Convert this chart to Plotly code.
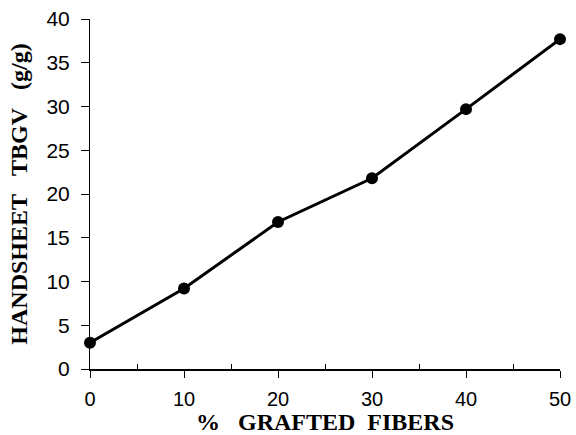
import plotly.graph_objects as go

grafted_pct = [0, 10, 20, 30, 40, 50]
tbgv = [3.0, 9.2, 16.8, 21.8, 29.7, 37.7]

x_ticks = [0, 10, 20, 30, 40, 50]
x_minor = [5, 15, 25, 35, 45]
y_ticks = [0, 5, 10, 15, 20, 25, 30, 35, 40]

NB = "\u00a0"
x_title = "%" + NB * 3 + "GRAFTED" + NB * 2 + "FIBERS"
y_title = "HANDSHEET" + NB * 3 + "TBGV" + NB * 3 + "(g/g)"

fig = go.Figure()
fig.add_trace(go.Scatter(
    x=grafted_pct, y=tbgv, mode="lines+markers",
    line=dict(color="black", width=3),
    marker=dict(color="black", size=12),
    cliponaxis=False, showlegend=False,
))

fig.update_layout(
    width=576, height=435,
    margin=dict(l=90, r=16, t=19, b=66),
    paper_bgcolor="white", plot_bgcolor="white",
    font=dict(family="Liberation Sans, Arial, sans-serif", size=20, color="black"),
)
fig.update_xaxes(
    range=[0, 50], tickvals=x_ticks, showgrid=False, zeroline=False,
    showline=True, linecolor="black", linewidth=1.5, automargin=False,
    ticks="outside", ticklen=7, tickwidth=1, tickcolor="black",
    minor=dict(tickvals=x_minor, ticks="inside", ticklen=5, tickcolor="black"),
    tickfont=dict(size=20), ticklabelstandoff=4,
    title=dict(text=x_title, standoff=5,
               font=dict(family="Liberation Serif, Times New Roman, serif", size=24, weight="bold")),
)
fig.update_yaxes(
    range=[0, 40], tickvals=y_ticks, showgrid=False, zeroline=False,
    showline=True, linecolor="black", linewidth=1, automargin=False,
    ticks="outside", ticklen=8, tickwidth=1, tickcolor="black",
    tickfont=dict(size=21), ticklabelstandoff=7,
    title=dict(text=y_title, standoff=12,
               font=dict(family="Liberation Serif, Times New Roman, serif", size=24, weight="bold")),
)

fig.write_html("out.html")
